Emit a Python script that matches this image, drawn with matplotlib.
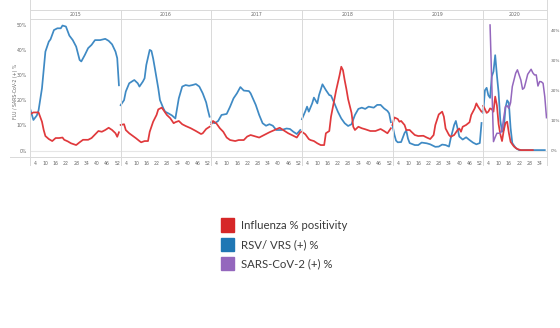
import matplotlib
matplotlib.use("Agg")
import matplotlib.pyplot as plt
from matplotlib.lines import Line2D
from matplotlib.patches import Rectangle

# ---------------------------------------------------------------- data
YEARS = [2015, 2016, 2017, 2018, 2019, 2020]
WEEK_TICKS = [4, 10, 16, 22, 28, 34, 40, 46, 52]

# Influenza % positivity (left axis), sampled weeks per season
flu_2015_weeks = [1, 3, 6, 8, 9, 10, 12, 14, 16, 18, 20, 21, 23, 25, 28, 30, 32, 35, 37, 39, 41, 43, 45, 47, 49, 51, 52, 53]
flu_2015 = [14.5, 15.2, 15.2, 11.5, 8.2, 5.8, 4.6, 3.8, 5.0, 5.0, 5.2, 4.3, 3.7, 2.9, 2.2, 3.3, 4.3, 4.3, 5.0, 6.4, 7.8, 7.5, 8.2, 9.1, 8.2, 6.9, 5.5, 7.3]
flu_2016_weeks = [1, 3, 4, 6, 8, 10, 12, 13, 15, 17, 18, 20, 22, 23, 25, 26, 28, 30, 32, 33, 35, 37, 39, 42, 45, 48, 49, 51, 53]
flu_2016 = [10.2, 10.5, 8.2, 6.9, 5.9, 4.9, 3.8, 3.3, 3.8, 3.8, 7.5, 11.5, 14.2, 16.4, 17.1, 16.2, 14.2, 12.9, 10.9, 11.3, 11.8, 10.5, 9.8, 8.9, 7.8, 6.6, 6.9, 8.6, 9.5]
flu_2017_weeks = [1, 2, 4, 6, 8, 10, 12, 15, 17, 20, 22, 24, 27, 29, 31, 33, 35, 38, 41, 43, 46, 49, 51, 53]
flu_2017 = [10.5, 11.8, 10.8, 8.9, 7.5, 5.2, 4.2, 3.8, 4.2, 4.2, 5.6, 6.2, 5.6, 5.2, 5.9, 6.6, 7.3, 8.2, 9.1, 8.2, 6.9, 5.9, 5.2, 7.3]
flu_2018_weeks = [1, 3, 5, 6, 8, 10, 12, 14, 15, 17, 18, 20, 21, 23, 24, 25, 26, 27, 28, 30, 31, 32, 34, 36, 38, 41, 44, 47, 49, 51, 53]
flu_2018 = [7.5, 6.5, 4.6, 4.2, 3.8, 2.9, 2.2, 2.2, 6.9, 7.8, 13.5, 20.5, 24.0, 30.0, 33.4, 32.0, 28.0, 24.5, 20.5, 15.0, 9.5, 8.2, 9.5, 8.9, 8.5, 7.8, 7.8, 8.6, 7.8, 6.9, 8.9]
flu_2019_weeks = [1, 2, 4, 5, 6, 8, 9, 11, 12, 14, 16, 19, 21, 23, 25, 26, 28, 30, 31, 32, 34, 35, 37, 39, 40, 41, 42, 44, 46, 47, 49, 50, 51, 53]
flu_2019 = [10.2, 13.2, 12.6, 11.5, 11.8, 10.2, 8.2, 8.2, 7.5, 6.2, 5.8, 5.9, 5.2, 4.6, 6.2, 10.2, 14.4, 15.5, 13.5, 8.8, 6.2, 5.5, 6.2, 8.2, 8.8, 7.5, 9.5, 10.2, 11.3, 14.2, 16.8, 18.8, 17.5, 15.5]
flu_2020_weeks = [1, 2, 3, 4, 5, 6, 7, 8, 9, 10, 11, 12, 13, 14, 15, 16, 17, 18, 19, 21, 23, 30]
flu_2020 = [17.8, 16.5, 15.0, 15.5, 16.8, 16.5, 15.5, 21.5, 18.0, 10.5, 6.5, 3.8, 8.0, 11.0, 11.5, 7.0, 3.5, 2.5, 1.6, 0.6, 0.2, 0.2]

# RSV / VRS (+) % (left axis)
rsv_2015_weeks = [1, 3, 5, 6, 8, 10, 12, 13, 15, 17, 19, 20, 22, 24, 26, 28, 30, 31, 33, 35, 37, 39, 42, 45, 47, 49, 51, 52, 53]
rsv_2015 = [16.8, 12.2, 14.0, 16.0, 24.8, 39.4, 43.4, 44.3, 48.0, 48.7, 48.7, 49.8, 49.4, 45.8, 44.0, 41.4, 36.1, 35.5, 38.0, 40.8, 42.1, 44.0, 44.0, 44.5, 43.7, 42.3, 39.4, 36.8, 26.0]
rsv_2016_weeks = [1, 3, 4, 6, 8, 9, 11, 12, 14, 15, 16, 18, 19, 20, 21, 23, 24, 26, 27, 29, 31, 33, 35, 37, 39, 41, 43, 45, 47, 49, 51, 52, 53]
rsv_2016 = [18.1, 20.1, 23.5, 26.8, 27.7, 28.1, 26.8, 25.5, 27.5, 28.8, 34.1, 40.1, 39.7, 36.7, 32.8, 24.8, 20.1, 16.8, 15.5, 14.8, 14.0, 12.8, 20.8, 25.5, 26.1, 25.8, 26.1, 26.5, 25.5, 22.8, 19.2, 16.2, 13.5]
rsv_2017_weeks = [1, 3, 5, 7, 10, 12, 14, 16, 18, 20, 23, 24, 27, 29, 31, 33, 35, 37, 39, 42, 45, 47, 49, 51, 53]
rsv_2017 = [11.3, 10.9, 11.8, 14.2, 14.6, 17.5, 20.8, 22.8, 25.3, 23.9, 23.7, 22.8, 18.2, 14.2, 10.9, 9.9, 10.5, 9.9, 8.2, 8.2, 8.8, 8.6, 7.5, 6.6, 8.2]
rsv_2018_weeks = [1, 3, 4, 5, 7, 8, 10, 11, 13, 15, 17, 18, 20, 22, 24, 26, 28, 30, 32, 34, 36, 38, 40, 43, 45, 47, 49, 51, 52, 53]
rsv_2018 = [12.5, 15.7, 17.5, 15.5, 18.8, 21.1, 18.8, 22.1, 26.4, 24.1, 22.1, 21.9, 18.8, 15.5, 12.8, 10.9, 9.8, 10.5, 14.2, 16.6, 17.1, 16.6, 17.5, 17.1, 18.2, 18.2, 16.8, 15.8, 14.8, 11.3]
rsv_2019_weeks = [1, 2, 3, 4, 6, 8, 9, 10, 11, 14, 16, 18, 21, 23, 26, 28, 30, 32, 34, 35, 37, 38, 39, 40, 42, 44, 46, 48, 50, 52, 53]
rsv_2019 = [10.0, 6.5, 4.0, 3.3, 3.4, 7.0, 8.0, 4.8, 3.0, 2.2, 2.2, 3.2, 2.9, 2.5, 1.5, 1.6, 2.4, 2.2, 1.6, 4.9, 10.2, 11.8, 8.8, 5.6, 4.4, 5.3, 4.2, 3.2, 2.5, 3.0, 11.0]
rsv_2020_weeks = [1, 2, 3, 4, 5, 6, 7, 8, 9, 10, 11, 12, 13, 14, 15, 16, 17, 18, 19, 20, 22, 37]
rsv_2020 = [15.0, 24.0, 25.0, 22.0, 21.0, 29.5, 31.5, 38.0, 30.0, 23.0, 12.0, 7.5, 8.2, 17.0, 20.0, 19.0, 9.0, 3.0, 2.0, 1.0, 0.2, 0.2]

# SARS-CoV-2 (+) % (right axis), 2020 only
sars_2020_weeks = [5, 7, 8, 9, 11, 12, 13, 14, 15, 16, 17, 18, 20, 21, 23, 24, 25, 26, 27, 29, 30, 31, 32, 33, 34, 35, 36, 37, 38]
sars_2020 = [42.0, 3.0, 4.5, 5.8, 5.8, 7.0, 11.0, 14.7, 15.0, 14.1, 16.0, 21.4, 25.9, 27.0, 23.6, 20.5, 21.0, 23.2, 25.5, 27.2, 26.0, 25.3, 25.3, 21.6, 23.1, 23.0, 22.5, 18.0, 11.0]

FLU = [(flu_2015_weeks, flu_2015), (flu_2016_weeks, flu_2016), (flu_2017_weeks, flu_2017),
       (flu_2018_weeks, flu_2018), (flu_2019_weeks, flu_2019), (flu_2020_weeks, flu_2020)]
RSV = [(rsv_2015_weeks, rsv_2015), (rsv_2016_weeks, rsv_2016), (rsv_2017_weeks, rsv_2017),
       (rsv_2018_weeks, rsv_2018), (rsv_2019_weeks, rsv_2019), (rsv_2020_weeks, rsv_2020)]

LEGEND_LABELS = ["Influenza % positivity", "RSV/ VRS (+) %", "SARS-CoV-2 (+) %"]

# ---------------------------------------------------------------- layout
W, H = 560, 328
PANE_SPAN = 53.0          # weeks shown in each full-year pane
LAST_PANE_END = 38.0      # last shown week in the 2020 pane
RED, BLUE, PURPLE = "#e0393c", "#3f8ac4", "#9467bd"
SW_RED, SW_BLUE, SW_PURPLE = "#d62728", "#1f77b4", "#9467bd"
GRID = "#d9d9d9"
TICK = "#666666"

offsets = [i * PANE_SPAN for i in range(len(YEARS))]
x_left = 1.0
x_right = offsets[-1] + LAST_PANE_END

fig = plt.figure(figsize=(W / 100, H / 100), dpi=100)
fig.patch.set_facecolor("white")


def fx(px):
    return px / W


def fy(py):
    return 1 - py / H


ax_l, ax_r, ax_t, ax_b = 30, 546.5, 19, 157
ax = fig.add_axes([fx(ax_l), fy(ax_b), (ax_r - ax_l) / W, (ax_b - ax_t) / H])
ax.set_xlim(x_left, x_right)
ax.set_ylim(-2.55, 52.4)
for s in ax.spines.values():
    s.set_visible(False)

ax2 = ax.twinx()
ax2.set_ylim(-2.14, 44.0)
for s in ax2.spines.values():
    s.set_visible(False)

# zero reference line
ax.axhline(0, color="#e6e6e6", lw=0.8, zorder=0)

# series, one segment per season
for off, (wk, v) in zip(offsets, FLU):
    ax.plot([off + w for w in wk], v, color=RED, lw=1.25, solid_joinstyle="round", zorder=3)
for off, (wk, v) in zip(offsets, RSV):
    ax.plot([off + w for w in wk], v, color=BLUE, lw=1.25, solid_joinstyle="round", zorder=2)
ax2.plot([offsets[-1] + w for w in sars_2020_weeks], sars_2020, color=PURPLE, lw=1.1,
         solid_joinstyle="round", zorder=2)

# week ticks per pane
ticks, labels = [], []
for off, yr in zip(offsets, YEARS):
    limit = LAST_PANE_END if yr == YEARS[-1] else PANE_SPAN
    for t in WEEK_TICKS:
        if t <= limit:
            ticks.append(off + t)
            labels.append(str(t))
ax.set_xticks(ticks)
ax.set_xticklabels(labels)
ax.tick_params(axis="x", length=0, pad=3.2, labelsize=3.3, labelcolor=TICK)

ax.set_yticks([0, 10, 20, 30, 40, 50])
ax.set_yticklabels([f"{v}%" for v in [0, 10, 20, 30, 40, 50]])
ax.tick_params(axis="y", length=0, pad=2.2, labelsize=3.3, labelcolor=TICK)
ax2.set_yticks([0, 10, 20, 30, 40])
ax2.set_yticklabels([f"{v}%" for v in [0, 10, 20, 30, 40]])
ax2.tick_params(axis="y", length=0, pad=3.2, labelsize=3.1, labelcolor=TICK)

# frame lines: header band, bottom rule, pane dividers
line_kw = dict(color=GRID, lw=0.7, transform=fig.transFigure)
fig.add_artist(Line2D([fx(30), fx(ax_r)], [fy(10), fy(10)], **line_kw))
fig.add_artist(Line2D([fx(30), fx(ax_r)], [fy(19), fy(19)], **line_kw))
fig.add_artist(Line2D([fx(10), fx(ax_r)], [fy(157), fy(157)], **line_kw))
px_per_week = (ax_r - ax_l) / (x_right - x_left)
divs = [ax_l] + [ax_l + (off + 1 - x_left) * px_per_week for off in offsets[1:]] + [ax_r]
for i, d in enumerate(divs):
    top = 0 if i in (0, len(divs) - 1) else 10
    fig.add_artist(Line2D([fx(d), fx(d)], [fy(top), fy(165)], **line_kw))

# year headers
for i, yr in enumerate(YEARS):
    cx = (divs[i] + divs[i + 1]) / 2
    fig.text(fx(cx), fy(14.5), str(yr), ha="center", va="center", fontsize=3.3, color=TICK)

fig.text(fx(15), fy(91.7), "FLU / SARS-CoV-2 (+) %", rotation=90, ha="center", va="center",
         fontsize=3.3, color=TICK)

# legend
for i, (lab, col) in enumerate(zip(LEGEND_LABELS, [SW_RED, SW_BLUE, SW_PURPLE])):
    top = 218.3 + i * 19.2
    fig.add_artist(Rectangle((fx(221), fy(top + 13.3)), 13.3 / W, 13.3 / H, color=col,
                             transform=fig.transFigure))
    fig.text(fx(240.7), fy(top + 6.8), lab, ha="left", va="center", fontsize=8.2,
             family=["Lato", "DejaVu Sans"], color="#3a3a3a")

fig.savefig("out.png", dpi=100, facecolor="white")
